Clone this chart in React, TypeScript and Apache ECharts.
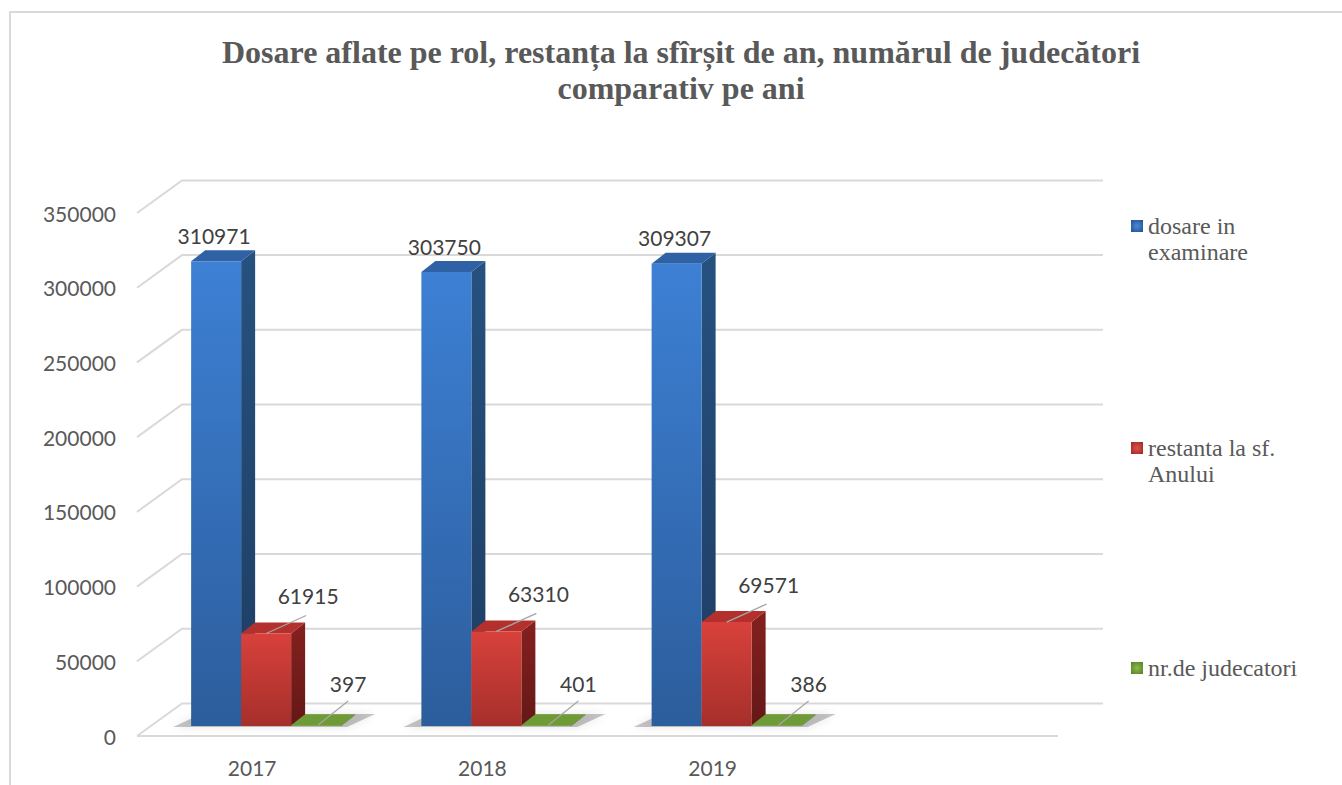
import React, { useEffect, useRef } from "react";
import * as echarts from "echarts";

// ---- data ----
const years = ["2017", "2018", "2019", ""];
const dosareInExaminare = [310971, 303750, 309307];
const restantaLaSfAnului = [61915, 63310, 69571];
const nrDeJudecatori = [397, 401, 386];
const seriesNames = ["dosare in examinare", "restanta la sf. Anului", "nr.de judecatori"];
const legendLabels = ["dosare in\nexaminare", "restanta la sf.\nAnului", "nr.de judecatori"];
const yTicks = [0, 50000, 100000, 150000, 200000, 250000, 300000, 350000];
const titleLines = [
  "Dosare aflate pe rol, restanța la sfîrșit de an, numărul de judecători",
  "comparativ pe ani",
];

// ---- geometry / style ----
const WALL_DX = 45;
const WALL_DY = -32.6;
const PLANE_DX = 14;
const PLANE_DY = -10;
const BAR_W = 50;
const BAR_DX = 14;
const BAR_DY = -11;
const LABEL_FONT = "Lato";
const LEGEND_X = 1131;
const LEGEND_ROW_Y = [226, 448, 668];

const PALETTES = [
  { front: ["#3d80d4", "#2c5d9c"], side: ["#26517f", "#1d3d63"], top: "#2e62a4", legend: ["#4a8ad8", "#214f8c"] },
  { front: ["#d8413b", "#a62f2b"], side: ["#84211f", "#641816"], top: "#b3302c", legend: ["#e0524c", "#9c2824"] },
  { front: ["#7aa63d", "#5f8a2c"], side: ["#4e7224", "#44661f"], top: "#6f9b36", legend: ["#8cbb4a", "#557d27"] },
];

const lin = (c: string[]) =>
  new echarts.graphic.LinearGradient(0, 0, 0, 1, [
    { offset: 0, color: c[0] },
    { offset: 1, color: c[1] },
  ]);

function barRenderer(si: number) {
  const pal = PALETTES[si];
  return (params: any, api: any) => {
    const idx = api.value(0);
    const val = api.value(1);
    const base = api.coord([idx, 0]);
    const top = api.coord([idx, val]);
    const cx = base[0] + PLANE_DX + (si - 1) * BAR_W;
    const xl = cx - BAR_W / 2;
    const xr = cx + BAR_W / 2;
    const yb = base[1] + PLANE_DY;
    const yt = Math.min(top[1] + PLANE_DY, yb - 0.8);
    const children: any[] = [];
    if (si === 0) {
      const gl = xl;
      const gr = xl + 3 * BAR_W;
      children.push({
        type: "polygon",
        shape: {
          points: [
            [gl - 18, yb + 1],
            [gr + 6, yb + 1],
            [gr + BAR_DX + 20, yb + BAR_DY - 1],
            [gl + BAR_DX - 4, yb + BAR_DY - 1],
          ],
        },
        style: { fill: "rgba(0,0,0,0.22)", shadowBlur: 10, shadowColor: "rgba(0,0,0,0.45)" },
        silent: true,
      });
    }
    children.push({
      type: "polygon",
      shape: {
        points: [
          [xr, yb],
          [xr, yt],
          [xr + BAR_DX, yt + BAR_DY],
          [xr + BAR_DX, yb + BAR_DY],
        ],
      },
      style: { fill: lin(pal.side) },
    });
    children.push({
      type: "polygon",
      shape: {
        points: [
          [xl, yt],
          [xr, yt],
          [xr + BAR_DX, yt + BAR_DY],
          [xl + BAR_DX, yt + BAR_DY],
        ],
      },
      style: { fill: pal.top },
    });
    children.push({
      type: "rect",
      shape: { x: xl, y: yt, width: BAR_W, height: yb - yt },
      style: { fill: lin(pal.front) },
    });
    const textStyle = {
      fontFamily: LABEL_FONT,
      fontSize: 21,
      fill: "#404040",
      align: "center",
      verticalAlign: "middle",
    };
    if (si === 0) {
      children.push({ type: "text", style: { ...textStyle, text: String(val), x: cx - 2, y: yt - 26 } });
    } else if (si === 1) {
      children.push({
        type: "line",
        shape: { x1: cx, y1: yt, x2: cx + 40, y2: yt - 18 },
        style: { stroke: "#a6a6a6", lineWidth: 1.3 },
      });
      children.push({ type: "text", style: { ...textStyle, text: String(val), x: cx + 42, y: yt - 38 } });
    } else {
      children.push({
        type: "line",
        shape: { x1: cx + 2, y1: yb - 1, x2: cx + 32, y2: yb - 25 },
        style: { stroke: "#a6a6a6", lineWidth: 1.3 },
      });
      children.push({ type: "text", style: { ...textStyle, text: String(val), x: cx + 32, y: yb - 43 } });
    }
    return { type: "group", children };
  };
}

function gridRenderer(params: any, api: any) {
  const v = api.value(1);
  const y = api.coord([0, v])[1];
  const cs = params.coordSys;
  const left = cs.x;
  const right = cs.x + cs.width;
  const stroke = { stroke: "#d9d9d9", lineWidth: 2, fill: null };
  const children: any[] = [
    {
      type: "polyline",
      shape: {
        points: [
          [left, y],
          [left + WALL_DX, y + WALL_DY],
          [right + WALL_DX, y + WALL_DY],
        ],
      },
      style: stroke,
    },
  ];
  if (v === 0) {
    children.push({ type: "line", shape: { x1: left, y1: y, x2: right, y2: y }, style: stroke });
  }
  return { type: "group", children, silent: true };
}

function legendGraphics() {
  const out: any[] = [];
  seriesNames.forEach((name, i) => {
    const cy = LEGEND_ROW_Y[i];
    out.push({
      type: "rect",
      shape: { x: LEGEND_X, y: cy - 6, width: 12, height: 12 },
      style: {
        fill: new echarts.graphic.RadialGradient(0.5, 0.5, 0.7, [
          { offset: 0, color: PALETTES[i].legend[0] },
          { offset: 1, color: PALETTES[i].legend[1] },
        ]),
      },
      silent: true,
    });
    out.push({
      type: "text",
      x: LEGEND_X + 17,
      y: cy - 13,
      style: {
        text: legendLabels[i],
        fontFamily: "Liberation Serif",
        fontSize: 24,
        lineHeight: 26,
        fill: "#595959",
        align: "left",
        verticalAlign: "top",
      },
      silent: true,
    });
  });
  return out;
}

export default function App() {
  const ref = useRef<HTMLDivElement>(null);
  useEffect(() => {
    if (!ref.current) return;
    const chart = echarts.init(ref.current, undefined, { renderer: "svg" });
    const seriesData = [dosareInExaminare, restantaLaSfAnului, nrDeJudecatori];
    chart.setOption({
      animation: false,
      backgroundColor: "#ffffff",
      title: {
        text: titleLines.join("\n"),
        left: 681,
        top: 34,
        padding: 0,
        textAlign: "center",
        textStyle: {
          fontFamily: "Liberation Serif",
          fontWeight: "bold",
          fontSize: 32,
          lineHeight: 36,
          color: "#595959",
        },
      },
      graphic: [
        {
          type: "rect",
          shape: { x: 10, y: 12, width: 1340, height: 800 },
          style: { fill: null, stroke: "#d9d9d9", lineWidth: 2 },
          silent: true,
          z: -10,
        },
        ...legendGraphics(),
      ],
      grid: { left: 137, top: 213, right: 284, bottom: 49, containLabel: false },
      xAxis: {
        type: "category",
        data: years,
        axisLine: { show: false },
        axisTick: { show: false },
        axisLabel: { margin: 21, fontFamily: LABEL_FONT, fontSize: 21, color: "#595959" },
        splitLine: { show: false },
      },
      yAxis: {
        type: "value",
        min: 0,
        max: 350000,
        interval: 50000,
        axisLine: { show: false },
        axisTick: { show: false },
        splitLine: { show: false },
        axisLabel: {
          margin: 21,
          fontFamily: LABEL_FONT,
          fontSize: 21,
          color: "#595959",
          formatter: (v: number) => String(v),
        },
      },
      series: [
        {
          type: "custom",
          name: "grid",
          renderItem: gridRenderer,
          data: yTicks.map((v) => [0, v]),
          encode: { x: 0, y: 1 },
          silent: true,
          z: 1,
        },
        ...seriesData.map((arr, si) => ({
          type: "custom",
          name: seriesNames[si],
          renderItem: barRenderer(si),
          data: arr.map((v, i) => [i, v]),
          encode: { x: 0, y: 1 },
          itemStyle: { color: PALETTES[si].legend[1] },
          z: 2 + si,
        })),
      ],
    });
    return () => chart.dispose();
  }, []);
  return (
    <div
      ref={ref}
      style={{ position: "absolute", left: 0, top: 0, width: 1342, height: 785 }}
    />
  );
}
